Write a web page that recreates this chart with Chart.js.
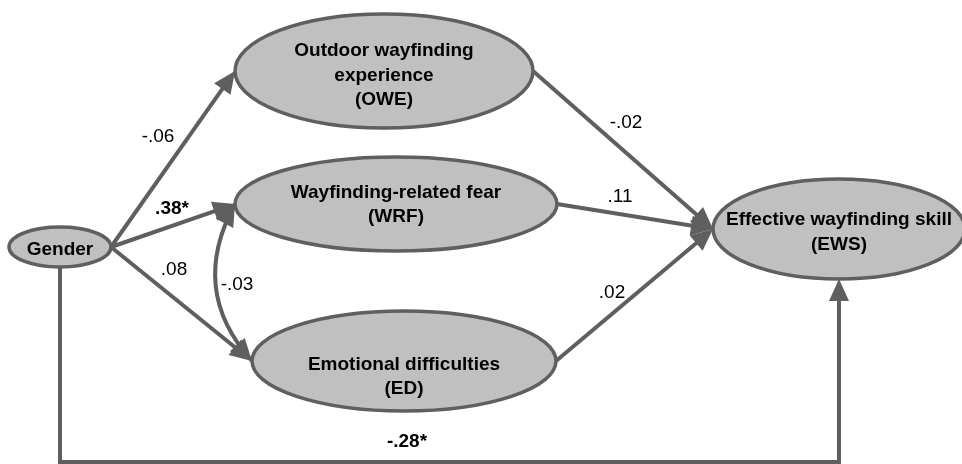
<!DOCTYPE html>
<html lang="en">
<head>
<meta charset="utf-8">
<title>Path model - wayfinding</title>
<script src="https://cdn.jsdelivr.net/npm/chart.js"></script>
<style>
	body{ margin:0; background:#fff; }
	.canvas_div{ width:962px; height:464px; }
</style>
</head>
<body>
<div class="canvas_div"><canvas id="myChart"></canvas></div>
<script>
// variables in the model
const nodeNames = ['Gender', 'OWE', 'WRF', 'ED', 'EWS'];
const nodeText = [
	['Gender'],
	['Outdoor wayfinding', 'experience', '(OWE)'],
	['Wayfinding-related fear', '(WRF)'],
	['Emotional difficulties', '(ED)'],
	['Effective wayfinding skill', '(EWS)']
];

// path coefficients
const pathFrom  = ['Gender', 'Gender', 'Gender', 'OWE', 'WRF', 'ED', 'Gender'];
const pathTo    = ['OWE', 'WRF', 'ED', 'EWS', 'EWS', 'EWS', 'EWS'];
const pathCoef  = ['-.06', '.38*', '.08', '-.02', '.11', '.02', '-.28*'];
const pathSig   = [false, true, false, false, false, false, true];
const pathRoute = ['direct', 'direct', 'direct', 'direct', 'direct', 'direct', 'under'];

// covariance WRF <-> ED
const covPair = ['WRF', 'ED'];
const covCoef = '-.03';

// layout of the diagram (diagram units on hidden 0..962 / 0..464 axes)
const nodeX  = [60, 384, 396, 404, 839];
const nodeY  = [247, 71, 204, 361, 229];
const nodeRX = [51, 149, 161, 152, 126];
const nodeRY = [20, 57, 47, 50, 50];
const nodeTextY = [250, 75.5, 205, 377, 232.5];
const pathLabelX = [158, 172, 174, 626, 620, 612, 407];
const pathLabelY = [137, 209, 270, 123, 197, 293, 442];
const covLabelXY = [237, 285];
const covBendXY = [188, 290];
const bottomRouteY = 462;

const LINE = '#5f5f5f';
const FILL = '#c0c0c0';
const FONT = "'Liberation Sans', Arial, sans-serif";

function anchor(name, side){
	const i = nodeNames.indexOf(name);
	if(side == 'left') return {x: nodeX[i] - nodeRX[i], y: nodeY[i]};
	if(side == 'right') return {x: nodeX[i] + nodeRX[i], y: nodeY[i]};
	return {x: nodeX[i], y: nodeY[i] + nodeRY[i]};
}

function pathPoints(k){
	if(pathRoute[k] == 'under'){
		const a = anchor(pathFrom[k], 'bottom'), b = anchor(pathTo[k], 'bottom');
		return [a, {x: a.x, y: bottomRouteY}, {x: b.x, y: bottomRouteY}, b];
	}
	return [anchor(pathFrom[k], 'right'), anchor(pathTo[k], 'left')];
}

// pull the last point back a little so the line hides under the arrow head
function trimmed(pts){
	const out = pts.map(p => ({x: p.x, y: p.y}));
	const a = out[out.length - 2], b = out[out.length - 1];
	const d = Math.hypot(b.x - a.x, b.y - a.y);
	b.x -= (b.x - a.x) / d * 10;
	b.y -= (b.y - a.y) / d * 10;
	return out;
}

const datasets = pathFrom.map((f, k) => ({
	label: f + ' -> ' + pathTo[k],
	data: trimmed(pathPoints(k)),
	showLine: true,
	borderColor: LINE,
	borderWidth: 4,
	pointRadius: 0,
	tension: 0,
	clip: false
}));

function arrowHead(ctx, tx, ty, fx, fy){
	const ang = Math.atan2(ty - fy, tx - fx);
	const len = 22, half = 10;
	ctx.save();
	ctx.translate(tx, ty);
	ctx.rotate(ang);
	ctx.beginPath();
	ctx.moveTo(0, 0);
	ctx.lineTo(-len, -half);
	ctx.lineTo(-len, half);
	ctx.closePath();
	ctx.fillStyle = LINE;
	ctx.fill();
	ctx.restore();
}

const diagram = {
	id: 'diagram',
	afterDatasetsDraw(chart){
		const ctx = chart.ctx;
		const xs = chart.scales.x, ys = chart.scales.y;
		const px = v => xs.getPixelForValue(v);
		const py = v => ys.getPixelForValue(v);

		// covariance curve
		const c0 = anchor(covPair[0], 'left'), c1 = anchor(covPair[1], 'left');
		ctx.save();
		ctx.strokeStyle = LINE;
		ctx.lineWidth = 4;
		ctx.beginPath();
		ctx.moveTo(px(c0.x), py(c0.y));
		ctx.quadraticCurveTo(px(covBendXY[0]), py(covBendXY[1]), px(c1.x), py(c1.y));
		ctx.stroke();
		ctx.restore();

		// ellipses
		for(let i = 0; i < nodeNames.length; i++){
			const cx = px(nodeX[i]), cy = py(nodeY[i]);
			const rx = Math.abs(px(nodeX[i] + nodeRX[i]) - cx);
			const ry = Math.abs(py(nodeY[i] + nodeRY[i]) - cy);
			ctx.save();
			ctx.beginPath();
			ctx.ellipse(cx, cy, rx, ry, 0, 0, Math.PI * 2);
			ctx.fillStyle = FILL;
			ctx.fill();
			ctx.lineWidth = 3.5;
			ctx.strokeStyle = LINE;
			ctx.stroke();
			ctx.restore();
		}

		// arrow heads
		for(let k = 0; k < pathFrom.length; k++){
			const pts = pathPoints(k);
			const a = pts[pts.length - 2], b = pts[pts.length - 1];
			arrowHead(ctx, px(b.x), py(b.y), px(a.x), py(a.y));
		}
		arrowHead(ctx, px(c0.x), py(c0.y), px(covBendXY[0]), py(covBendXY[1]));
		arrowHead(ctx, px(c1.x), py(c1.y), px(covBendXY[0]), py(covBendXY[1]));

		// texts
		ctx.save();
		ctx.fillStyle = '#000';
		ctx.textAlign = 'center';
		ctx.textBaseline = 'middle';
		ctx.font = 'bold 19px ' + FONT;
		for(let i = 0; i < nodeNames.length; i++){
			const lines = nodeText[i];
			const lh = 24.5;
			const top = nodeTextY[i] - (lines.length - 1) * lh / 2;
			lines.forEach((t, j) => ctx.fillText(t, px(nodeX[i]), py(top + j * lh)));
		}
		for(let k = 0; k < pathCoef.length; k++){
			ctx.font = (pathSig[k] ? 'bold ' : '') + '19px ' + FONT;
			ctx.fillText(pathCoef[k], px(pathLabelX[k]), py(pathLabelY[k]));
		}
		ctx.font = '19px ' + FONT;
		ctx.fillText(covCoef, px(covLabelXY[0]), py(covLabelXY[1]));
		ctx.restore();
	}
};

new Chart(document.getElementById('myChart'), {
	type: 'scatter',
	data: { datasets: datasets },
	options: {
		responsive: true,
		maintainAspectRatio: false,
		animation: false,
		layout: { padding: 0, autoPadding: false },
		plugins: { legend: { display: false }, tooltip: { enabled: false } },
		scales: {
			x: { type: 'linear', min: 0, max: 962, display: false },
			y: { type: 'linear', min: 0, max: 464, reverse: true, display: false }
		}
	},
	plugins: [diagram]
});
</script>
</body>
</html>
